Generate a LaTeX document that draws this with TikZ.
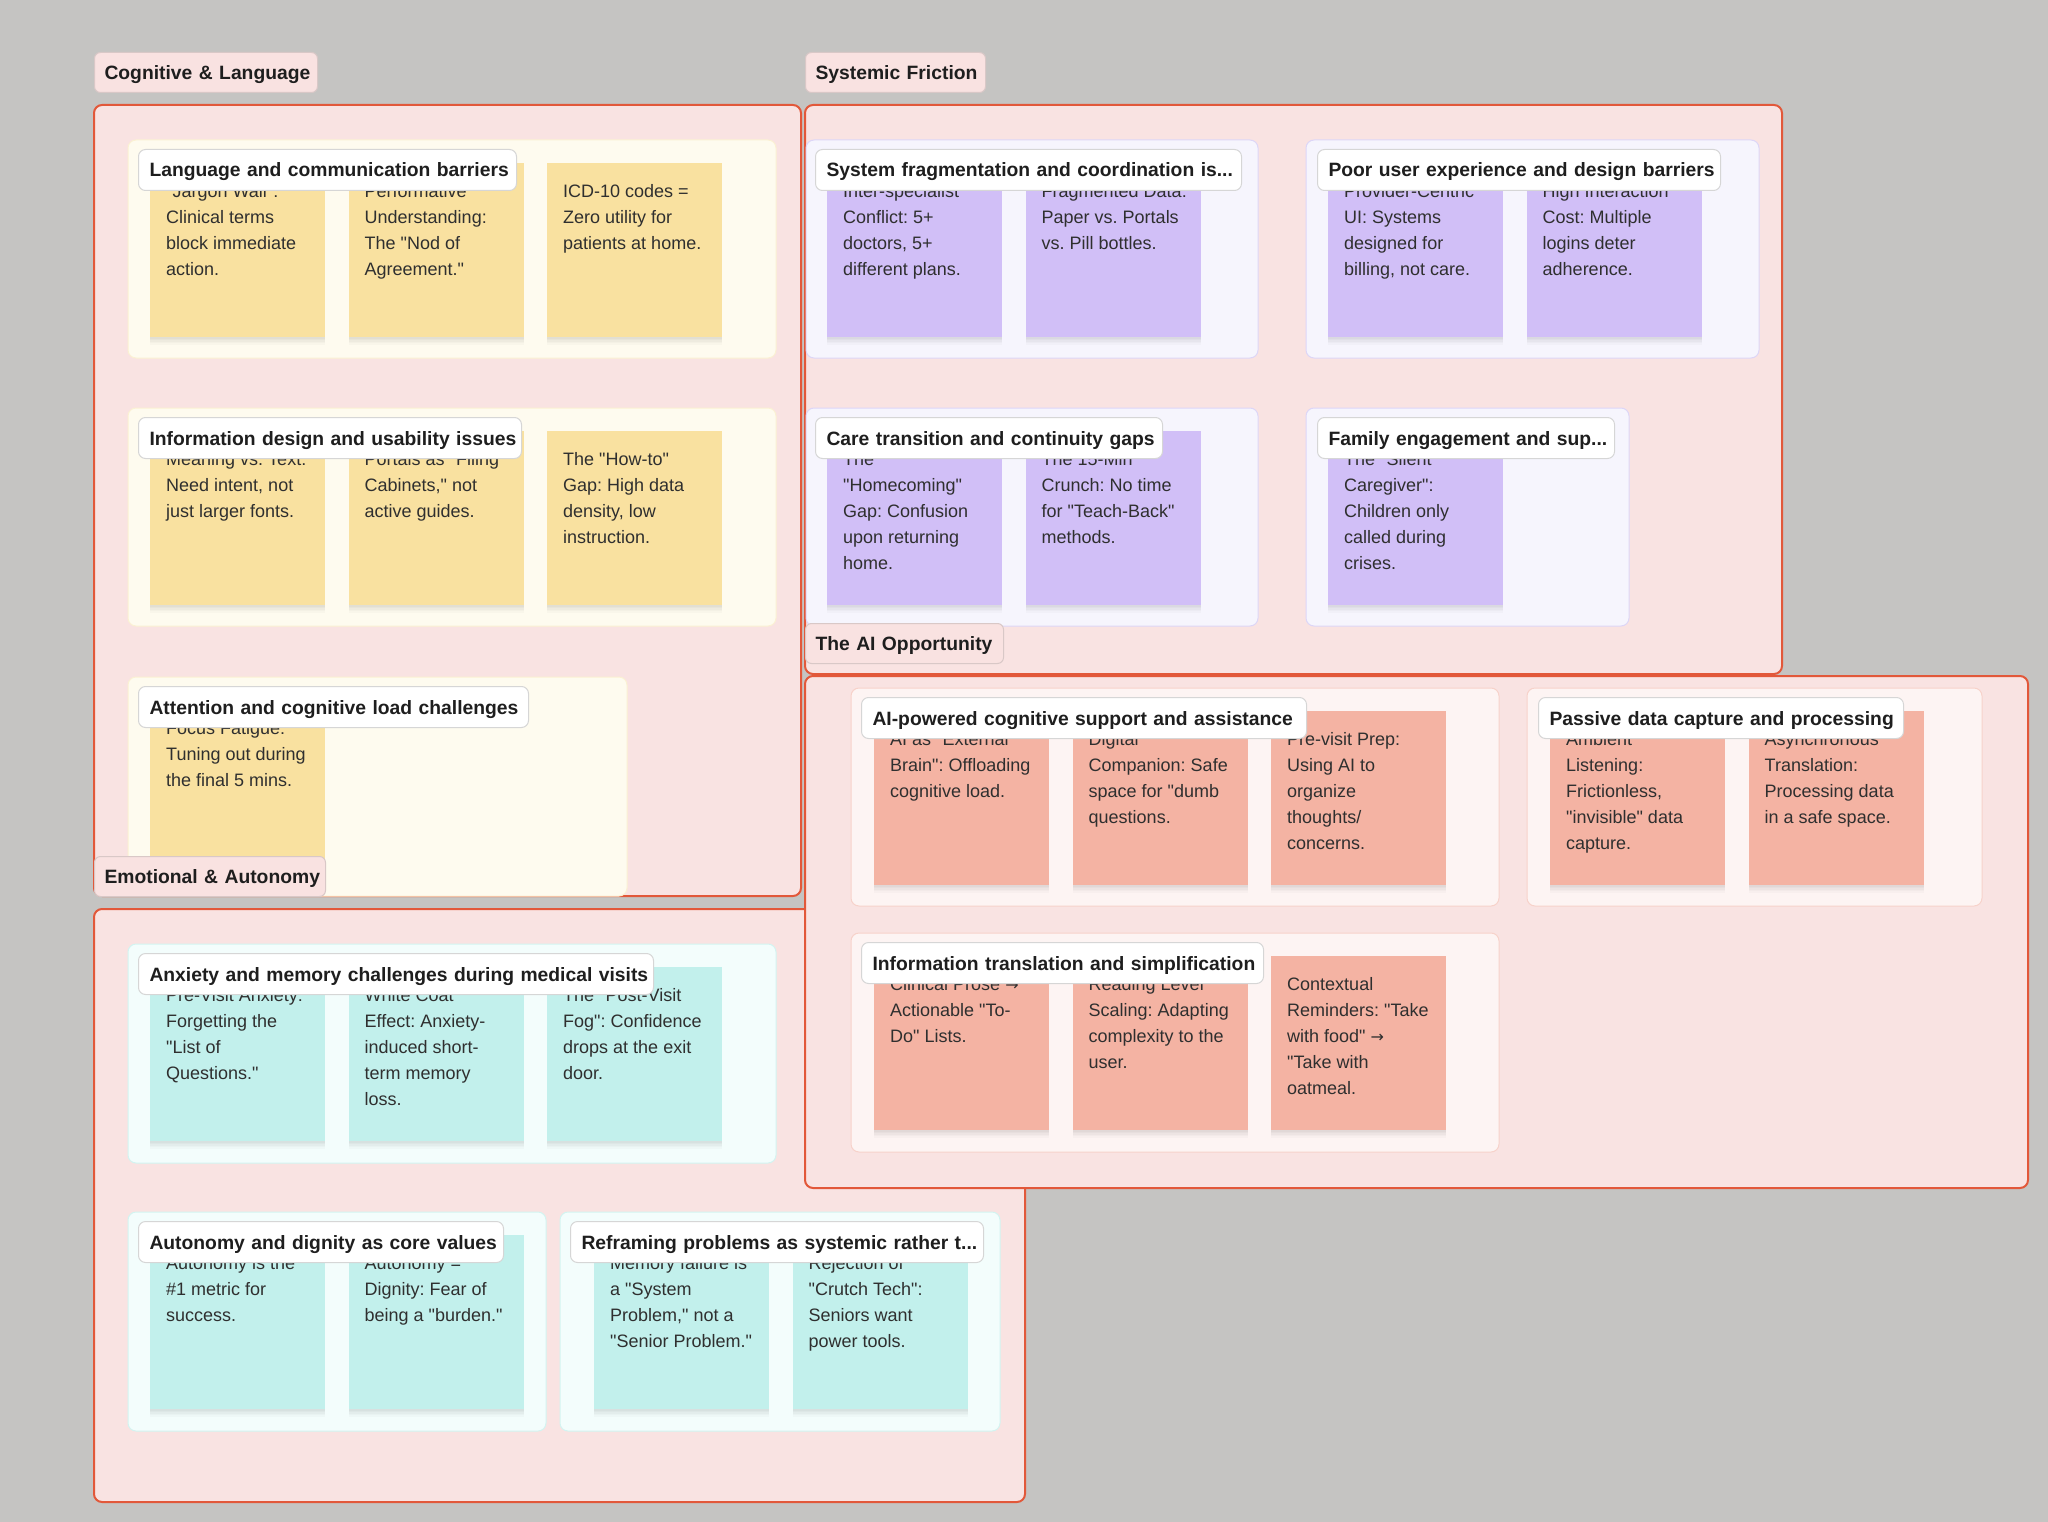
\documentclass[tikz,border=0pt]{standalone}
\usepackage{fontspec}
\newfontfamily\uifont{Liberation Sans}
\newfontfamily\arrfont{DejaVu Sans}
\usetikzlibrary{calc,shadows}
\definecolor{bggray}{HTML}{C5C4C2}
\definecolor{frfill}{HTML}{F9E3E2}
\definecolor{frdraw}{HTML}{E2583A}
\definecolor{ttlfill}{HTML}{F9E2E1}
\definecolor{ttldraw}{HTML}{D9C8C7}
\definecolor{gcream}{HTML}{FEFBEF}
\definecolor{gcreamd}{HTML}{FBF1D3}
\definecolor{styel}{HTML}{F9E1A0}
\definecolor{glav}{HTML}{F6F5FD}
\definecolor{glavd}{HTML}{DDD6F7}
\definecolor{stpur}{HTML}{D1BFF7}
\definecolor{gsal}{HTML}{FDF4F3}
\definecolor{gsald}{HTML}{F7D2CA}
\definecolor{stsal}{HTML}{F4B3A3}
\definecolor{gteal}{HTML}{F3FDFC}
\definecolor{gteald}{HTML}{D3F4F1}
\definecolor{sttea}{HTML}{C2F0EC}
\definecolor{hdrdraw}{HTML}{D6D6D6}
\definecolor{txtdark}{HTML}{1E1E1E}
\definecolor{txtst}{HTML}{2F2F2F}
\tikzset{
  frame/.style={fill=frfill, draw=frdraw, line width=2pt, rounded corners=8pt},
  grp/.style={line width=1pt, rounded corners=8pt},
  ttl/.style={anchor=north west, fill=ttlfill, draw=ttldraw, line width=1pt,
    rounded corners=6pt, inner xsep=10pt, inner ysep=0pt, minimum height=40pt,
    text height=16pt, text depth=2pt, align=left, text=txtdark,
    font=\uifont\bfseries\fontsize{19.3}{23}\selectfont\frenchspacing},
  hdr/.style={anchor=north west, fill=white, draw=hdrdraw, line width=1pt,
    rounded corners=7pt, inner xsep=11pt, inner ysep=0pt, minimum height=41pt,
    text height=16pt, text depth=2pt, align=left, text=txtdark,
    font=\uifont\bfseries\fontsize{19.3}{23}\selectfont\frenchspacing},
  stk/.style={anchor=north west, minimum width=175pt, minimum height=174pt, inner sep=0pt,
    general shadow={fill=black, opacity=.025, shadow yshift=-1.5pt},
    general shadow={fill=black, opacity=.025, shadow yshift=-3pt},
    general shadow={fill=black, opacity=.025, shadow yshift=-4.5pt},
    general shadow={fill=black, opacity=.02, shadow yshift=-6pt},
    general shadow={fill=black, opacity=.02, shadow yshift=-8pt}},
  stktxt/.style={anchor=north west, inner sep=0pt, align=left, text=txtst,
    font=\uifont\fontsize{18}{26}\selectfont\frenchspacing}
}
\newcommand\rarr{{\arrfont\fontsize{16}{26}\selectfont →}}
\newcommand\mkstk[5]{%
  \node[stk, fill=#4] (#1) at (#2,#3) {};
  \node[stktxt] (#1t) at ($(#1.north west)+(16,20)$) {\rule{0pt}{14pt}#5};}
\newcommand\mkhdr[5]{\node[hdr, text width=#4pt] (#1) at (#2,#3) {\mbox{#5}};}
\newcommand\mkttl[5]{\node[ttl, text width=#4pt] (#1) at (#2,#3) {\mbox{#5}};}
\begin{document}
\begin{tikzpicture}[x=1pt,y=-1pt]
\fill[bggray] (0,0) rectangle (2048,1522);
\useasboundingbox (0,0) rectangle (2048,1522);

% ================= Cognitive & Language =================
\draw[frame] (94,105) rectangle (801,896);
\draw[grp, fill=gcream, draw=gcreamd] (128,140) rectangle (776,358);
\draw[grp, fill=gcream, draw=gcreamd] (128,408) rectangle (776,626);
\draw[grp, fill=gcream, draw=gcreamd] (128,677) rectangle (627,896);

\mkstk{c1a}{150}{163}{styel}{"Jargon Wall":\\Clinical terms\\block immediate\\action.}
\mkstk{c1b}{348.5}{163}{styel}{Performative\\Understanding:\\The "Nod of\\Agreement."}
\mkstk{c1c}{547}{163}{styel}{ICD-10 codes =\\Zero utility for\\patients at home.}
\mkhdr{h1}{138}{149}{356}{Language and communication barriers}

\mkstk{c2a}{150}{431}{styel}{Meaning vs. Text:\\Need intent, not\\just larger fonts.}
\mkstk{c2b}{348.5}{431}{styel}{Portals as "Filing\\Cabinets," not\\active guides.}
\mkstk{c2c}{547}{431}{styel}{The "How-to"\\Gap: High data\\density, low\\instruction.}
\mkhdr{h2}{138}{417}{361}{Information design and usability issues}

\mkstk{c3a}{150}{700}{styel}{Focus Fatigue:\\Tuning out during\\the final 5 mins.}
\mkhdr{h3}{138}{686}{368}{Attention and cognitive load challenges}

\mkttl{tcog}{94}{52}{203}{Cognitive \& Language}

% ================= Systemic Friction =================
\draw[frame] (805,105) rectangle (1782,674);
\draw[grp, fill=glav, draw=glavd] (806,140) rectangle (1258,358);
\draw[grp, fill=glav, draw=glavd] (1306,140) rectangle (1759,358);
\draw[grp, fill=glav, draw=glavd] (806,408) rectangle (1258,626);
\draw[grp, fill=glav, draw=glavd] (1306,408) rectangle (1629,626);

\mkstk{s1a}{827}{163}{stpur}{Inter-specialist\\Conflict: 5+\\doctors, 5+\\different plans.}
\mkstk{s1b}{1025.5}{163}{stpur}{Fragmented Data:\\Paper vs. Portals\\vs. Pill bottles.}
\mkhdr{h4}{815}{149}{404}{System fragmentation and coordination is...}

\mkstk{s2a}{1328}{163}{stpur}{Provider-Centric\\UI: Systems\\designed for\\billing, not care.}
\mkstk{s2b}{1526.5}{163}{stpur}{High Interaction\\Cost: Multiple\\logins deter\\adherence.}
\mkhdr{h5}{1317}{149}{381}{Poor user experience and design barriers}

\mkstk{s3a}{827}{431}{stpur}{The\\"Homecoming"\\Gap: Confusion\\upon returning\\home.}
\mkstk{s3b}{1025.5}{431}{stpur}{The 15-Min\\Crunch: No time\\for "Teach-Back"\\methods.}
\mkhdr{h6}{815}{417}{325}{Care transition and continuity gaps}

\mkstk{s4a}{1328}{431}{stpur}{The "Silent\\Caregiver":\\Children only\\called during\\crises.}
\mkhdr{h7}{1317}{417}{275}{Family engagement and sup...}

\mkttl{tsys}{805}{52}{160}{Systemic Friction}

% ================= Emotional & Autonomy =================
\draw[frame] (94,909) rectangle (1025,1502);
\draw[grp, fill=gteal, draw=gteald] (128,944) rectangle (776,1163);
\draw[grp, fill=gteal, draw=gteald] (128,1212) rectangle (546,1431);
\draw[grp, fill=gteal, draw=gteald] (560,1212) rectangle (1000,1431);

\mkstk{e1a}{150}{967}{sttea}{Pre-Visit Anxiety:\\Forgetting the\\"List of\\Questions."}
\mkstk{e1b}{348.5}{967}{sttea}{White Coat\\Effect: Anxiety-\\induced short-\\term memory\\loss.}
\mkstk{e1c}{547}{967}{sttea}{The "Post-Visit\\Fog": Confidence\\drops at the exit\\door.}
\mkhdr{h8}{138}{953}{493}{Anxiety and memory challenges during medical visits}

\mkstk{e2a}{150}{1235}{sttea}{Autonomy is the\\\#1 metric for\\success.}
\mkstk{e2b}{348.5}{1235}{sttea}{Autonomy =\\Dignity: Fear of\\being a "burden."}
\mkhdr{h9}{138}{1221}{343}{Autonomy and dignity as core values}

\mkstk{e3a}{594}{1235}{sttea}{Memory failure is\\a "System\\Problem," not a\\"Senior Problem."}
\mkstk{e3b}{792.5}{1235}{sttea}{Rejection of\\"Crutch Tech":\\Seniors want\\power tools.}
\mkhdr{h10}{570}{1221}{391}{Reframing problems as systemic rather t...}

\mkttl{temo}{94}{856}{211}{Emotional \& Autonomy}

% ================= The AI Opportunity =================
\draw[frame] (805,676) rectangle (2028,1188);
\draw[grp, fill=gsal, draw=gsald] (851,688) rectangle (1499,906);
\draw[grp, fill=gsal, draw=gsald] (1527,688) rectangle (1982,906);
\draw[grp, fill=gsal, draw=gsald] (851,933) rectangle (1499,1152);

\mkstk{a1a}{874}{711}{stsal}{AI as "External\\Brain": Offloading\\cognitive load.}
\mkstk{a1b}{1072.5}{711}{stsal}{Digital\\Companion: Safe\\space for "dumb\\questions.}
\mkstk{a1c}{1271}{711}{stsal}{Pre-visit Prep:\\Using AI to\\organize\\thoughts/\\concerns.}
\mkhdr{h11}{861}{697}{423}{AI-powered cognitive support and assistance}

\mkstk{a2a}{1550}{711}{stsal}{Ambient\\Listening:\\Frictionless,\\"invisible" data\\capture.}
\mkstk{a2b}{1748.5}{711}{stsal}{Asynchronous\\Translation:\\Processing data\\in a safe space.}
\mkhdr{h12}{1538}{697}{343}{Passive data capture and processing}

\mkstk{a3a}{874}{956}{stsal}{Clinical Prose \rarr\\Actionable "To-\\Do" Lists.}
\mkstk{a3b}{1072.5}{956}{stsal}{Reading Level\\Scaling: Adapting\\complexity to the\\user.}
\mkstk{a3c}{1271}{956}{stsal}{Contextual\\Reminders: "Take\\with food" \rarr\\"Take with\\oatmeal.}
\mkhdr{h13}{861}{942}{380}{Information translation and simplification}

\mkttl{tai}{805}{623}{178}{The AI Opportunity}
\end{tikzpicture}
\end{document}
